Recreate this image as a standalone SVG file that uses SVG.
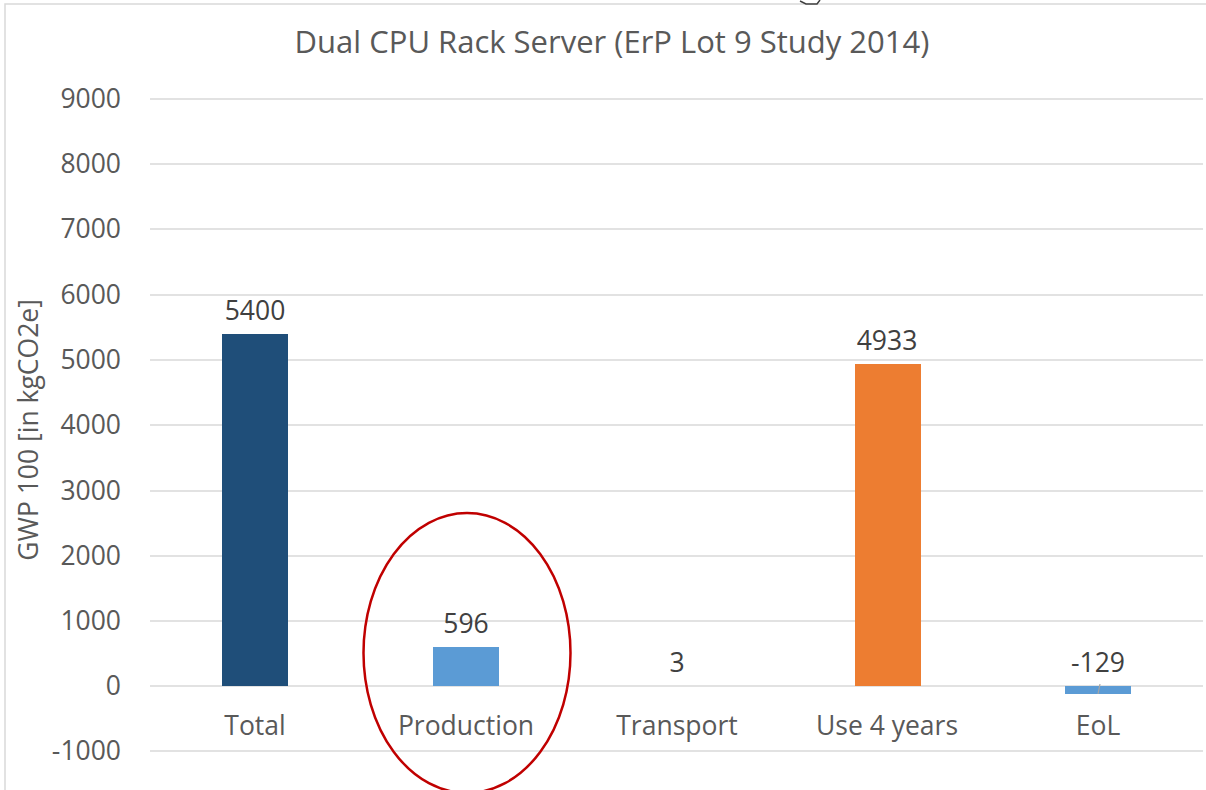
<svg xmlns="http://www.w3.org/2000/svg" width="1206" height="790" viewBox="0 0 1206 790">
  <style>
    .grid { stroke: #d9d9d9; stroke-width: 1.5; }
    .tick { font-family: "Open Sans", "Liberation Sans", sans-serif; font-size: 26.5px; fill: #595959; text-anchor: end; }
    .cat { font-family: "Open Sans", "Liberation Sans", sans-serif; font-size: 26.5px; fill: #595959; text-anchor: middle; }
    .val { font-family: "Open Sans", "Liberation Sans", sans-serif; font-size: 26.5px; fill: #404040; text-anchor: middle; }
    .title { font-family: "Open Sans", "Liberation Sans", sans-serif; font-size: 31px; fill: #595959; text-anchor: middle; }
    .axis-title { font-family: "Open Sans", "Liberation Sans", sans-serif; font-size: 26.5px; fill: #595959; text-anchor: middle; }
  </style>
  <rect width="1206" height="790" fill="#ffffff"/>
  <!-- chart frame -->
  <path d="M5 790 V4 H1206" fill="none" stroke="#d9d9d9" stroke-width="1.5"/>
  <path d="M800 1 L806 4 L817 4 L820 0" fill="none" stroke="#404040" stroke-width="1.5"/>

  <text class="title" x="612" y="53">Dual CPU Rack Server (ErP Lot 9 Study 2014)</text>

  <!-- gridlines -->
  <g id="gridlines">
    <line class="grid" x1="150" y1="99" x2="1203" y2="99"/>
    <line class="grid" x1="150" y1="164" x2="1203" y2="164"/>
    <line class="grid" x1="150" y1="229" x2="1203" y2="229"/>
    <line class="grid" x1="150" y1="295" x2="1203" y2="295"/>
    <line class="grid" x1="150" y1="360" x2="1203" y2="360"/>
    <line class="grid" x1="150" y1="425" x2="1203" y2="425"/>
    <line class="grid" x1="150" y1="491" x2="1203" y2="491"/>
    <line class="grid" x1="150" y1="556" x2="1203" y2="556"/>
    <line class="grid" x1="150" y1="621" x2="1203" y2="621"/>
    <line class="grid" x1="150" y1="686" x2="1203" y2="686"/>
    <line class="grid" x1="150" y1="751" x2="1203" y2="751"/>
  </g>

  <!-- y axis labels -->
  <g id="y-axis">
    <text class="tick" x="121" y="108">9000</text>
    <text class="tick" x="121" y="173">8000</text>
    <text class="tick" x="121" y="238">7000</text>
    <text class="tick" x="121" y="304">6000</text>
    <text class="tick" x="121" y="369">5000</text>
    <text class="tick" x="121" y="434">4000</text>
    <text class="tick" x="121" y="500">3000</text>
    <text class="tick" x="121" y="565">2000</text>
    <text class="tick" x="121" y="630">1000</text>
    <text class="tick" x="121" y="695">0</text>
    <text class="tick" x="121" y="760">-1000</text>
    <text class="axis-title" transform="translate(38 430) rotate(-90)">GWP 100 [in kgCO2e]</text>
  </g>

  <!-- bars -->
  <g id="bar-total">
    <rect x="222" y="334" width="66" height="352" fill="#1f4e79"/>
    <text class="val" x="255" y="320">5400</text>
    <text class="cat" x="255" y="735">Total</text>
  </g>
  <g id="bar-production">
    <rect x="433" y="647" width="66" height="39" fill="#5b9bd5"/>
    <text class="val" x="466" y="633">596</text>
    <text class="cat" x="466" y="735">Production</text>
  </g>
  <g id="bar-transport">
    <text class="val" x="677" y="672">3</text>
    <text class="cat" x="677" y="735">Transport</text>
  </g>
  <g id="bar-use">
    <rect x="855" y="364" width="66" height="322" fill="#ed7d31"/>
    <text class="val" x="887" y="350">4933</text>
    <text class="cat" x="887" y="735">Use 4 years</text>
  </g>
  <g id="bar-eol">
    <rect x="1065" y="686" width="66" height="8" fill="#5b9bd5"/>
    <line x1="1100" y1="684" x2="1098" y2="694" stroke="#a6a6a6" stroke-width="1.2"/>
    <text class="val" x="1098" y="672">-129</text>
    <text class="cat" x="1098" y="735">EoL</text>
  </g>

  <!-- highlight -->
  <g id="highlight">
    <ellipse cx="467" cy="653" rx="103.5" ry="140" fill="none" stroke="#c00000" stroke-width="2.5"/>
  </g>
</svg>
